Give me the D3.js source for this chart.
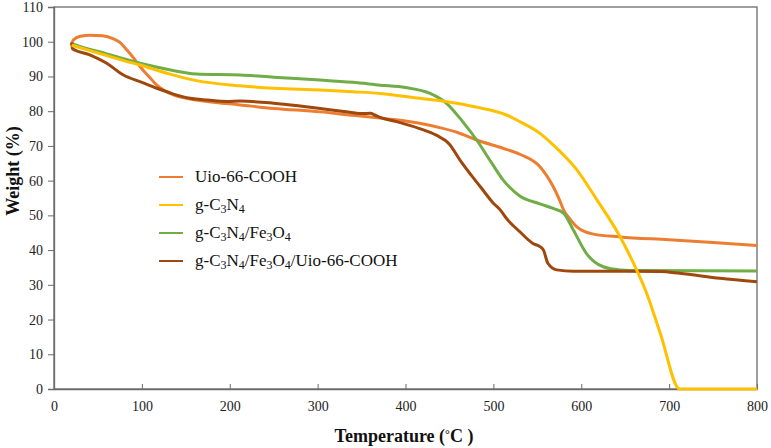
<!DOCTYPE html>
<html>
<head>
<meta charset="utf-8">
<script src="https://cdn.jsdelivr.net/npm/d3@7"></script>
<style>
  body { margin: 0; background: #fff; }
  svg text { font-family: "Liberation Serif", "Times New Roman", Tinos, "DejaVu Serif", serif; }
</style>
</head>
<body>
<svg id="chart" width="771" height="448"></svg>
<script>
// ---- data ----
const xTicks = [0, 100, 200, 300, 400, 500, 600, 700, 800];
const yTicks = [0, 10, 20, 30, 40, 50, 60, 70, 80, 90, 100, 110];

const seriesNames = ["Uio-66-COOH", "g-C3N4", "g-C3N4/Fe3O4", "g-C3N4/Fe3O4/Uio-66-COOH"];
const seriesColors = ["#ED7D31", "#FFC000", "#70AD47", "#9E480E"];

const uioT = [20,22,30,41,55,67,75,83,90,98,108,117,136,155,174,212,250,303,340,371,400,416,440,460,481,510,530,553,568,575,580,587,595,604,614,644,700,750,800];
const uioW = [99,100.5,101.6,101.9,101.7,100.9,99.8,97.6,95.5,92.8,90,87.5,84.7,83.5,82.8,81.8,80.8,79.8,78.8,78.0,77.2,76.5,75.2,73.8,71.7,69.4,67.6,64.0,58.3,54.6,51.5,49.0,46.7,45.3,44.6,43.8,43.0,42.2,41.3];

const cnT = [20,40,60,80,98,130,162,212,250,303,340,371,416,447,480,515,530,553,568,595,618,644,663,673,690,712,800];
const cnW = [99,97.5,96,94.5,93.3,90.8,88.8,87.3,86.6,86.1,85.6,85.1,83.7,82.7,81.2,78.9,77.0,73.6,70.3,63.1,54.4,43.9,34.3,28.5,16.0,0,0];

const cnFeT = [20,22,60,98,130,162,212,250,303,340,371,400,428,447,465,481,497,511,530,553,568,580,591,606,625,644,670,800];
const cnFeW = [99.5,99.3,96.5,93.8,92,90.7,90.4,89.8,89.0,88.3,87.5,86.8,85.1,82.2,77,71.7,65.5,60.2,55.6,53.3,52.0,50.6,45.8,39.0,35.2,34.3,34.1,34.0];

const allT = [20,21,40,60,79,100,117,135,155,175,197,212,250,280,303,330,350,360,365,371,390,416,435,450,462,475,485,500,508,515,530,545,553,557,562,572,591,650,690,712,758,800];
const allW = [99.8,98,96.3,93.8,90.4,88.3,86.6,85.0,83.7,83.2,82.8,82.9,82.3,81.5,80.8,79.9,79.3,79.4,78.9,78.2,77.0,75.0,73.1,70.5,65.9,61.5,58.3,53.5,51.5,49.1,45.3,41.9,41.0,40.0,36.2,34.3,33.9,33.9,33.8,33.3,31.9,30.9];

const seriesT = [uioT, cnT, cnFeT, allT];
const seriesW = [uioW, cnW, cnFeW, allW];

// ---- layout ----
const FONT = '"Liberation Serif", "Times New Roman", Tinos, "DejaVu Serif", serif';
const svg = d3.select("#chart");
const L = 54, R = 757, T = 7, B = 389;
const x = d3.scaleLinear().domain([0, 800]).range([L, R]);
const y = d3.scaleLinear().domain([0, 110]).range([B, T]);
const axisColor = "#6b6b6b";

// frame
svg.append("rect").attr("x", L).attr("y", T).attr("width", R - L).attr("height", B - T)
  .attr("fill", "none").attr("stroke", axisColor).attr("stroke-width", 1.3);

// y axis
const yAxis = svg.append("g").attr("transform", `translate(${L},0)`)
  .call(d3.axisLeft(y).tickValues(yTicks).tickSize(6).tickPadding(5).tickFormat(d3.format("d")));
yAxis.attr("font-family", FONT);
yAxis.select(".domain").attr("stroke", axisColor).attr("stroke-width", 1.3);
yAxis.selectAll(".tick line").attr("stroke", axisColor);
yAxis.selectAll(".tick text").attr("font-size", 14).attr("fill", "#222").style("font-family", FONT);

// x axis (inward ticks)
const xAxis = svg.append("g").attr("transform", `translate(0,${B})`)
  .call(d3.axisBottom(x).tickValues(xTicks).tickSizeInner(-5).tickSizeOuter(0).tickPadding(12).tickFormat(d3.format("d")));
xAxis.attr("font-family", FONT);
xAxis.select(".domain").attr("stroke", axisColor).attr("stroke-width", 1.3);
xAxis.selectAll(".tick line").attr("stroke", axisColor);
xAxis.selectAll(".tick text").attr("font-size", 14).attr("fill", "#222").style("font-family", FONT);

// axis titles
const xt = svg.append("text").attr("x", 404).attr("y", 442).attr("text-anchor", "middle")
  .attr("font-size", 18).attr("font-weight", "bold").attr("fill", "#111").style("font-family", FONT);
xt.append("tspan").text("Temperature (");
xt.append("tspan").text("°").attr("font-size", 12).attr("dy", -4);
xt.append("tspan").text("C )").attr("dy", 4);

svg.append("text").attr("transform", "translate(19,171) rotate(-90)").attr("text-anchor", "middle")
  .attr("font-size", 18).attr("font-weight", "bold").attr("fill", "#111").style("font-family", FONT)
  .text("Weight (%)");

// lines
const line = d3.line().x(d => x(d[0])).y(d => y(d[1])).curve(d3.curveMonotoneX);
const drawOrder = [0, 2, 3, 1];
drawOrder.forEach(i => {
  const pts = seriesT[i].map((t, j) => [t, seriesW[i][j]]);
  svg.append("path").datum(pts).attr("d", line).attr("fill", "none")
    .attr("stroke", seriesColors[i]).attr("stroke-width", 3).attr("stroke-linejoin", "round");
});

// legend
const legendY = [177, 205, 233, 261];
seriesNames.forEach((name, i) => {
  const g = svg.append("g").attr("transform", `translate(0,${legendY[i]})`);
  g.append("line").attr("x1", 159).attr("x2", 183).attr("y1", 0).attr("y2", 0)
    .attr("stroke", seriesColors[i]).attr("stroke-width", 2);
  const t = g.append("text").attr("x", 195).attr("y", 0).attr("dy", 5)
    .attr("font-size", 17).attr("fill", "#111").style("font-family", FONT);
  // subscripts: single digit directly after an element symbol (C, N, Fe, O)
  const re = /(C|N|e|O)(\d)(?!\d)/g;
  let last = 0, m;
  const pieces = [];
  while ((m = re.exec(name)) !== null) {
    pieces.push({ s: name.slice(last, m.index + m[1].length), sub: false });
    pieces.push({ s: m[2], sub: true });
    last = m.index + m[0].length;
  }
  pieces.push({ s: name.slice(last), sub: false });
  pieces.forEach(p => {
    if (!p.s) return;
    const ts = t.append("tspan").text(p.s);
    if (p.sub) ts.attr("font-size", 12).attr("baseline-shift", "-25%");
  });
});
</script>
</body>
</html>
